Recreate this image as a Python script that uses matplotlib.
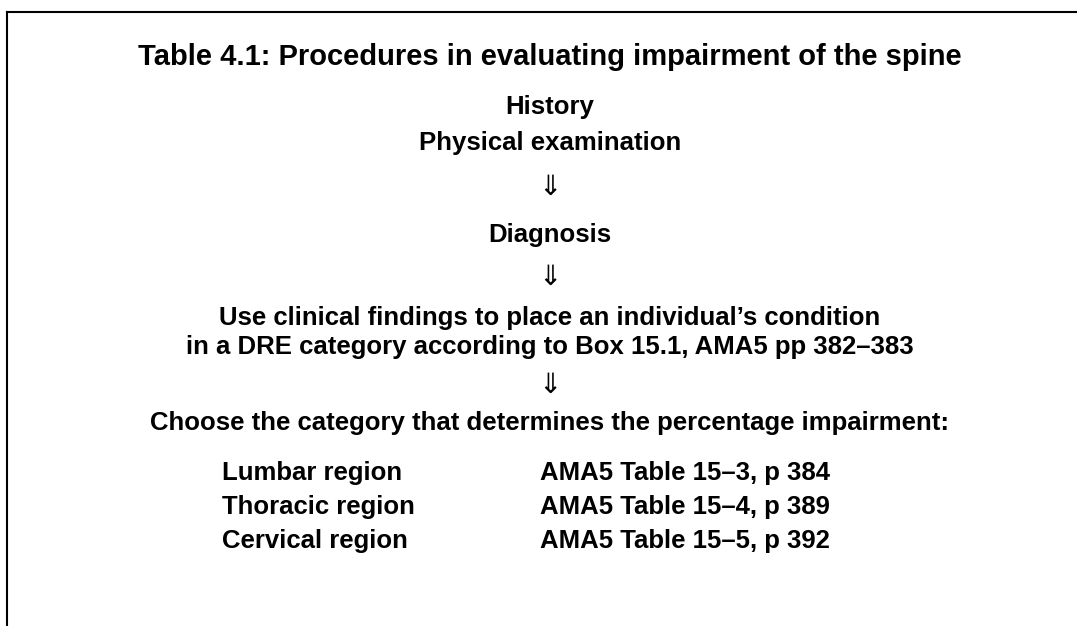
import matplotlib
matplotlib.use("Agg")
from matplotlib import pyplot as plt

plt.rcParams['font.family'] = ['Liberation Sans', 'DejaVu Sans']

title = "Table 4.1: Procedures in evaluating impairment of the spine"
steps = ["History", "Physical examination", "\u21d3", "Diagnosis", "\u21d3",
         "Use clinical findings to place an individual\u2019s condition",
         "in a DRE category according to Box 15.1, AMA5 pp 382\u2013383",
         "\u21d3",
         "Choose the category that determines the percentage impairment:"]
step_y = [107, 143, 187, 235, 277, 318, 347, 385, 423]
regions = ["Lumbar region", "Thoracic region", "Cervical region"]
tables = ["AMA5 Table 15\u20133, p 384", "AMA5 Table 15\u20134, p 389", "AMA5 Table 15\u20135, p 392"]
region_y = [473, 507, 541]

fig = plt.figure(figsize=(10.77, 6.26), dpi=100)
ax = fig.add_axes([0, 0, 1, 1])
ax.set_xlim(0, 1077)
ax.set_ylim(626, 0)
ax.axis('off')

# frame: top and left edges only
ax.plot([7, 1077], [12, 12], color='black', lw=1.5, solid_capstyle='projecting')
ax.plot([7, 7], [12, 626], color='black', lw=1.5, solid_capstyle='projecting')

cx = 550
ax.text(cx, 57, title, ha='center', va='center', fontsize=21, fontweight='bold')
for s, y in zip(steps, step_y):
    if s == "\u21d3":
        ax.text(cx, y, s, ha='center', va='center', fontsize=20, family=['DejaVu Sans'])
    else:
        ax.text(cx, y, s, ha='center', va='center', fontsize=18.5, fontweight='bold')

for r, t, y in zip(regions, tables, region_y):
    ax.text(222, y, r, ha='left', va='center', fontsize=18.5, fontweight='bold')
    ax.text(540, y, t, ha='left', va='center', fontsize=18.5, fontweight='bold')

fig.savefig("out.png", dpi=100)
